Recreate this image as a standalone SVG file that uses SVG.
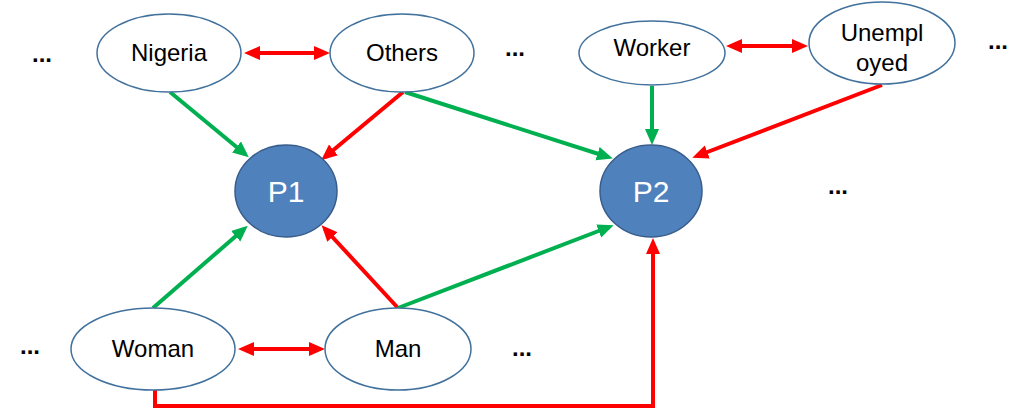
<svg xmlns="http://www.w3.org/2000/svg" width="1011" height="410" viewBox="0 0 1011 410">
<style>
.n{fill:#fff;stroke:#41719C;stroke-width:1.5}
.p{fill:#4F81BD;stroke:#385D8A;stroke-width:1.5}
.t{font-family:"Liberation Sans",Arial,sans-serif;font-size:24px;fill:#000;text-anchor:middle}
.dt{font-family:"Liberation Sans",Arial,sans-serif;font-size:24px;font-weight:bold;fill:#000;text-anchor:middle}
.pt{font-family:"Liberation Sans",Arial,sans-serif;font-size:30px;fill:#fff;text-anchor:middle}
.g{stroke:#00B050;stroke-width:4;fill:none;marker-end:url(#ag)}
.r{stroke:#FF0000;stroke-width:4;fill:none;marker-end:url(#ar)}
.d{stroke:#FF0000;stroke-width:4;fill:none;marker-end:url(#ar);marker-start:url(#ar)}
</style>
<defs>
<marker id="ag" markerUnits="userSpaceOnUse" markerWidth="17" markerHeight="15" refX="11" refY="7" orient="auto-start-reverse" viewBox="0 0 17 14"><path d="M0,0 L16,7 L0,14 z" fill="#00B050"/></marker>
<marker id="ar" markerUnits="userSpaceOnUse" markerWidth="17" markerHeight="15" refX="11" refY="7" orient="auto-start-reverse" viewBox="0 0 17 14"><path d="M0,0 L16,7 L0,14 z" fill="#FF0000"/></marker>
</defs>
<g id="connectors">
<line class="d" x1="249" y1="53" x2="325" y2="53"/>
<line class="d" x1="731" y1="46" x2="803" y2="46"/>
<line class="d" x1="243" y1="349" x2="320" y2="349"/>
<line class="g" x1="170" y1="92" x2="245" y2="154"/>
<line class="r" x1="403" y1="92" x2="325" y2="157"/>
<line class="g" x1="405" y1="92" x2="608" y2="157"/>
<line class="g" x1="652" y1="86" x2="652" y2="140"/>
<line class="r" x1="882" y1="85" x2="697" y2="156"/>
<line class="g" x1="153" y1="308" x2="244" y2="229"/>
<line class="r" x1="398" y1="308" x2="325" y2="229"/>
<line class="g" x1="398" y1="308" x2="609" y2="227"/>
<polyline class="r" points="155,390 155,406 653,406 653,243"/>
</g>
<g id="node-nigeria"><ellipse class="n" cx="169" cy="53" rx="72" ry="39"/><text class="t" x="169" y="61">Nigeria</text></g>
<g id="node-others"><ellipse class="n" cx="402" cy="53" rx="72" ry="39"/><text class="t" x="402" y="61">Others</text></g>
<g id="node-worker"><ellipse class="n" cx="652" cy="53" rx="73" ry="32"/><text class="t" x="652" y="56">Worker</text></g>
<g id="node-unemployed"><ellipse class="n" cx="882" cy="43" rx="73" ry="41"/><text class="t" x="882" y="41">Unempl</text><text class="t" x="882" y="71">oyed</text></g>
<g id="node-p1"><ellipse class="p" cx="286" cy="191" rx="51" ry="46"/><text class="pt" x="286" y="202">P1</text></g>
<g id="node-p2"><ellipse class="p" cx="651" cy="191" rx="51" ry="46"/><text class="pt" x="651" y="202">P2</text></g>
<g id="node-woman"><ellipse class="n" cx="153" cy="349" rx="82" ry="41"/><text class="t" x="153" y="357">Woman</text></g>
<g id="node-man"><ellipse class="n" cx="398" cy="349" rx="73" ry="41"/><text class="t" x="398" y="357">Man</text></g>
<g id="ellipses-dots">
<text class="dt" x="42" y="62">...</text>
<text class="dt" x="515" y="56">...</text>
<text class="dt" x="998" y="49">...</text>
<text class="dt" x="838" y="194">...</text>
<text class="dt" x="30" y="354">...</text>
<text class="dt" x="522" y="356">...</text>
</g>
</svg>
